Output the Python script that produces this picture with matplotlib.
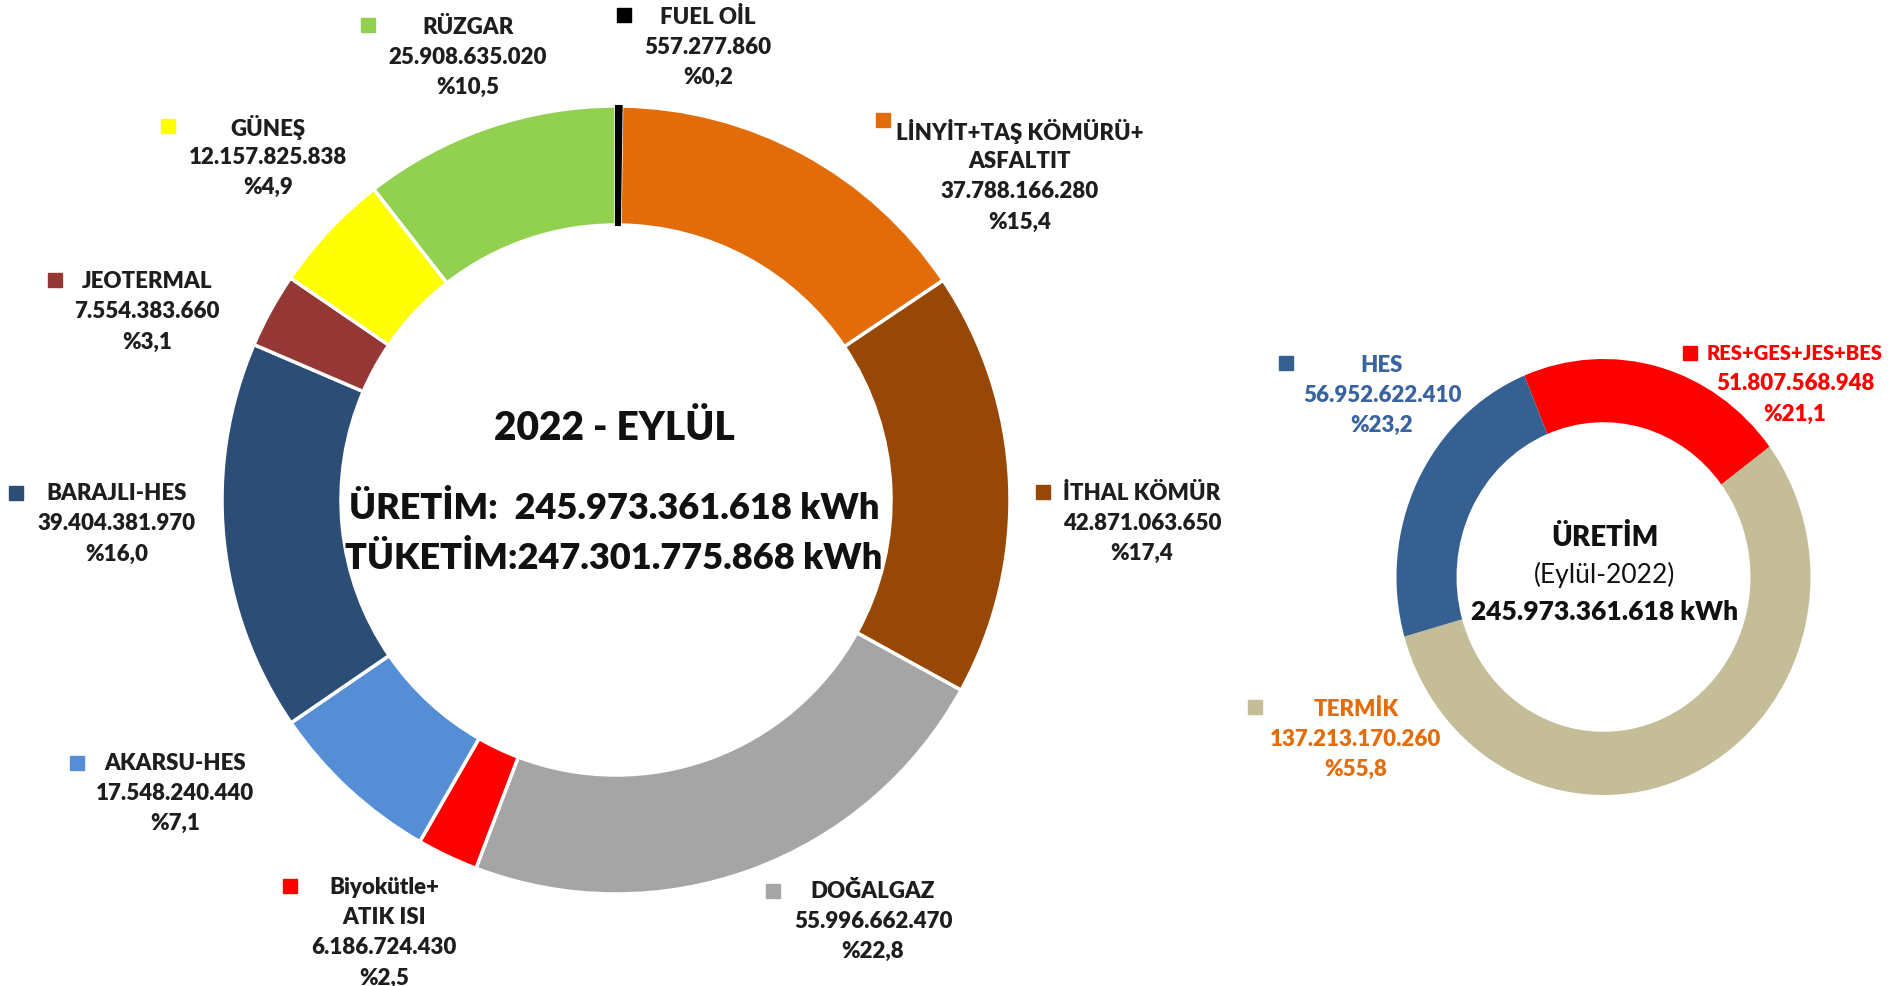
import matplotlib
matplotlib.use("Agg")
import matplotlib.pyplot as plt

plt.rcParams['font.family'] = ['Lato', 'DejaVu Sans']

# kaynak bazinda uretim (kWh) - saat yonunde, tepeden baslayarak
sources = ["FUEL OİL", "LİNYİT+TAŞ KÖMÜRÜ+\nASFALTIT", "İTHAL KÖMÜR", "DOĞALGAZ",
           "Biyokütle+\nATIK ISI", "AKARSU-HES", "BARAJLI-HES", "JEOTERMAL",
           "GÜNEŞ", "RÜZGAR"]
production = [557277860, 37788166280, 42871063650, 55996662470, 6186724430,
              17548240440, 39404381970, 7554383660, 12157825838, 25908635020]
source_colors = ["#000000", "#E36C0A", "#974806", "#A5A5A5", "#FF0000",
                 "#558ED5", "#2C4D75", "#953735", "#FFFF00", "#92D050"]

# gruplar (sag halka)
groups = ["RES+GES+JES+BES", "TERMİK", "HES"]
group_production = [51807568948, 137213170260, 56952622410]
group_colors = ["#FF0000", "#C4BD97", "#376092"]
group_text_colors = ["#FF0000", "#E46C0A", "#3A64A0"]

month_title = "2022 - EYLÜL"
month_sub = "(Eylül-2022)"
consumption = 247301775868

W, H = 1895, 986
BOLD = "heavy"

# label layout in pixels from top-left: (text center x, first line y, marker x, marker y)
source_label_pos = [
    (708, 17, 624, 15),
    (1020, 132, 883, 120),
    (1142, 493, 1043, 492),
    (873, 891, 773, 891),
    (384, 888, 290, 886),
    (175, 763, 77, 763),
    (117, 494, 16, 493),
    (147, 282, 55, 280),
    (268, 127, 168, 126),
    (468, 27, 368, 25),
]
group_label_pos = [
    (1795, 354, 1690, 353),
    (1356, 709, 1255, 707),
    (1382, 365, 1286, 363),
]


def fmt(v):
    return f"{v:,}".replace(",", ".")


def pct(v, total):
    return "%" + f"{100 * v / total:.1f}".replace(".", ",")


def draw_label(ax, lines, pos, color, text_color, fs=16, first_fs=16):
    cx, y0, mx, my = pos
    ax.plot([mx], [H - my], marker="s", ms=10, color=color, mec=color, ls="none")
    for i, line in enumerate(lines):
        ax.text(cx, H - (y0 + i * 30), line, ha="center", va="center",
                fontsize=first_fs if i == 0 else fs, fontweight=BOLD,
                color=text_color)


fig = plt.figure(figsize=(W / 100, H / 100), dpi=100)
ax = fig.add_axes([0, 0, 1, 1])

total = sum(production)

# sol halka
wedges, _ = ax.pie(production, colors=source_colors, startangle=90, counterclock=False,
                   center=(616, H - 500), radius=394,
                   wedgeprops=dict(width=119, edgecolor="white", linewidth=2.5))
# fuel oil dilimi cok ince, beyaz kenar altinda kaybolmasin
wedges[0].set_edgecolor(source_colors[0])
wedges[0].set_linewidth(1.5)
wedges[0].set_zorder(3)
ax.set_xlim(0, W)
ax.set_ylim(0, H)
ax.set_aspect("auto")
ax.axis("off")

for name, val, col, pos in zip(sources, production, source_colors, source_label_pos):
    lines = name.split("\n") + [fmt(val), pct(val, total)]
    draw_label(ax, lines, pos, col, "#1E1E1E")

ax.text(614, H - 429, month_title, ha="center", va="center",
        fontsize=28, fontweight=BOLD, color="#111111")
ax.text(614, H - 508, "ÜRETİM:  " + fmt(total) + " kWh", ha="center", va="center",
        fontsize=26, fontweight=BOLD, color="#111111")
ax.text(614, H - 558, "TÜKETİM:" + fmt(consumption) + " kWh", ha="center", va="center",
        fontsize=26, fontweight=BOLD, color="#111111")

# sag halka (hafif dikey uzatilmis)
rx, ry, rcx, rcy = 207, 218, 1603.5, 577
ax2 = fig.add_axes([(rcx - rx) / W, (H - rcy - ry) / H, 2 * rx / W, 2 * ry / H])
ax2.pie(group_production, colors=group_colors, startangle=112.5, counterclock=False,
        radius=1, wedgeprops=dict(width=0.29, edgecolor="none"))
ax2.set_xlim(-1, 1)
ax2.set_ylim(-1, 1)
ax2.set_aspect("auto")
ax2.axis("off")

gtotal = sum(group_production)
for name, val, col, tcol, pos in zip(groups, group_production, group_colors,
                                     group_text_colors, group_label_pos):
    name_fs = 14.5 if len(name) > 10 else 16
    draw_label(ax, [name, fmt(val), pct(val, gtotal)], pos, col, tcol,
               first_fs=name_fs)

ax.text(1605, H - 537, "ÜRETİM", ha="center", va="center",
        fontsize=20, fontweight=BOLD, color="#111111")
ax.text(1605, H - 575, month_sub, ha="center", va="center",
        fontsize=19, color="#111111")
ax.text(1605, H - 612, fmt(gtotal) + " kWh", ha="center", va="center",
        fontsize=19, fontweight=BOLD, color="#111111")

fig.savefig("out.png", dpi=100)
